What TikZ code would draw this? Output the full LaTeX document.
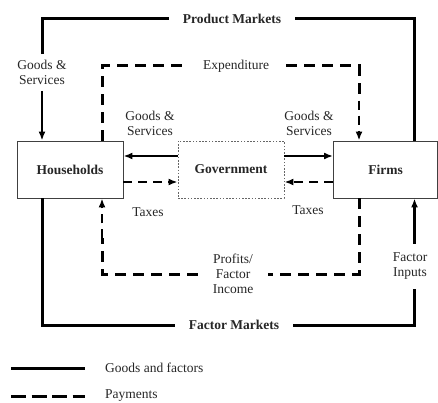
\documentclass[tikz,border=0pt]{standalone}
\usepackage{fontspec}
\setmainfont{Liberation Serif}
\usetikzlibrary{arrows.meta}
\begin{document}
\begin{tikzpicture}[x=1pt,y=-1pt,
  every node/.style={font=\fontsize{13.5}{15}\selectfont, text=black!85},
  box/.style={draw=black!75, line width=0.9pt, minimum height=57pt, inner sep=0pt, font=\fontsize{13.5}{15}\selectfont\bfseries},
  govbox/.style={box, draw=black!60, dash pattern=on 1.6pt off 1.6pt},
  lbl/.style={align=center, inner sep=0pt},
  mkt/.style={inner xsep=14pt, inner ysep=0pt, font=\fontsize{13.5}{15}\selectfont\bfseries},
  solidflow/.style={line width=3pt},
  dashflow/.style={line width=3pt, dash pattern=on 11pt off 7pt},
  thinflow/.style={line width=2.2pt},
  thindash/.style={line width=2.2pt, dash pattern=on 9pt off 6pt},
  tip/.style={-{Latex[length=9pt,width=7pt]}}
]
\useasboundingbox (0,0) rectangle (438,403);

% boxes
\node[box, minimum width=106pt] (hh) at (70,169.5) {Households};
\node[govbox, minimum width=106pt] (gov) at (231,169.5) {Government};
\node[box, minimum width=104pt] (firms) at (385.5,169.5) {Firms};

% market labels
\node[mkt] (pm) at (232,19) {Product Markets};
\node[mkt] (fm) at (234,325) {Factor Markets};
\node[lbl, inner xsep=17pt] (exp) at (236,66) {Expenditure};
\node[lbl, inner xsep=15pt] (pfi) at (233,274) {Profits/\\Factor\\Income};

% side labels
\node[lbl, inner ysep=6pt] (gsl) at (42,72.5) {Goods \&\\Services};
\node[lbl, inner ysep=9pt] (fi) at (410,266.5) {Factor\\Inputs};
\node[lbl] (gsg1) at (150,123) {Goods \&\\Services};
\node[lbl] (gsg2) at (309,123) {Goods \&\\Services};
\node[lbl] (tx1) at (148,212) {Taxes};
\node[lbl] (tx2) at (308,210) {Taxes};

% coordinates
\coordinate (tl) at (42,19);
\coordinate (tr) at (414.5,19);
\coordinate (bl) at (42,325);
\coordinate (br) at (414.5,325);
\coordinate (etl) at (102,66);
\coordinate (etr) at (359,66);
\coordinate (ebl) at (102,274);
\coordinate (ebr) at (359,274);

% product markets loop (solid)
\draw[solidflow] (gsl.north) -- (tl) -- (pm.west);
\draw[solidflow] (pm.east) -- (tr) -- (tr |- firms.north);
\draw[thinflow, tip] (gsl.south) -- (gsl.south |- hh.north);

% factor markets loop (solid)
\draw[solidflow] (bl |- hh.south) -- (bl) -- (fm.west);
\draw[solidflow] (fm.east) -- (br) -- (br |- fi.south);
\draw[thinflow, tip] (fi.north -| br) -- (br |- firms.south);

% expenditure (dashed)
\draw[dashflow] (etl |- hh.north) -- (etl) -- (exp.west);
\draw[dashflow] (exp.east) -- (etr) -- ([yshift=40pt]etr |- firms.north);
\draw[thindash, tip] ([yshift=40pt]etr |- firms.north) -- (etr |- firms.north);

% profits / factor income (dashed)
\draw[dashflow] (etr |- firms.south) -- (ebr) -- (pfi.east |- ebr);
\draw[dashflow] (pfi.west |- ebl) -- (ebl) -- ([yshift=-40pt]ebl |- hh.south);
\draw[thindash, tip] ([yshift=-40pt]ebl |- hh.south) -- (ebl |- hh.south);

% government flows
\draw[thinflow, tip] ([yshift=13.5pt]gov.west) -- ([yshift=13.5pt]gov.west -| hh.east);
\draw[thindash, tip] ([yshift=-12.5pt]hh.east) -- ([yshift=-12.5pt]hh.east -| gov.west);
\draw[thinflow, tip] ([yshift=13.5pt]gov.east) -- ([yshift=13.5pt]gov.east -| firms.west);
\draw[thindash, tip] ([yshift=-12.5pt]firms.west) -- ([yshift=-12.5pt]firms.west -| gov.east);

% legend
\coordinate (l1a) at (11,368);
\coordinate (l1b) at (85,368);
\coordinate (l2a) at (11,396);
\coordinate (l2b) at (85,396);
\draw[solidflow] (l1a) -- (l1b);
\draw[line width=3pt, dash pattern=on 15pt off 5.5pt] (l2a) -- (l2b);
\node[anchor=west, inner sep=0pt] (lg1) at (105,368) {Goods and factors};
\node[anchor=west, inner sep=0pt] (lg2) at (105,396) {Payments};
\end{tikzpicture}
\end{document}
